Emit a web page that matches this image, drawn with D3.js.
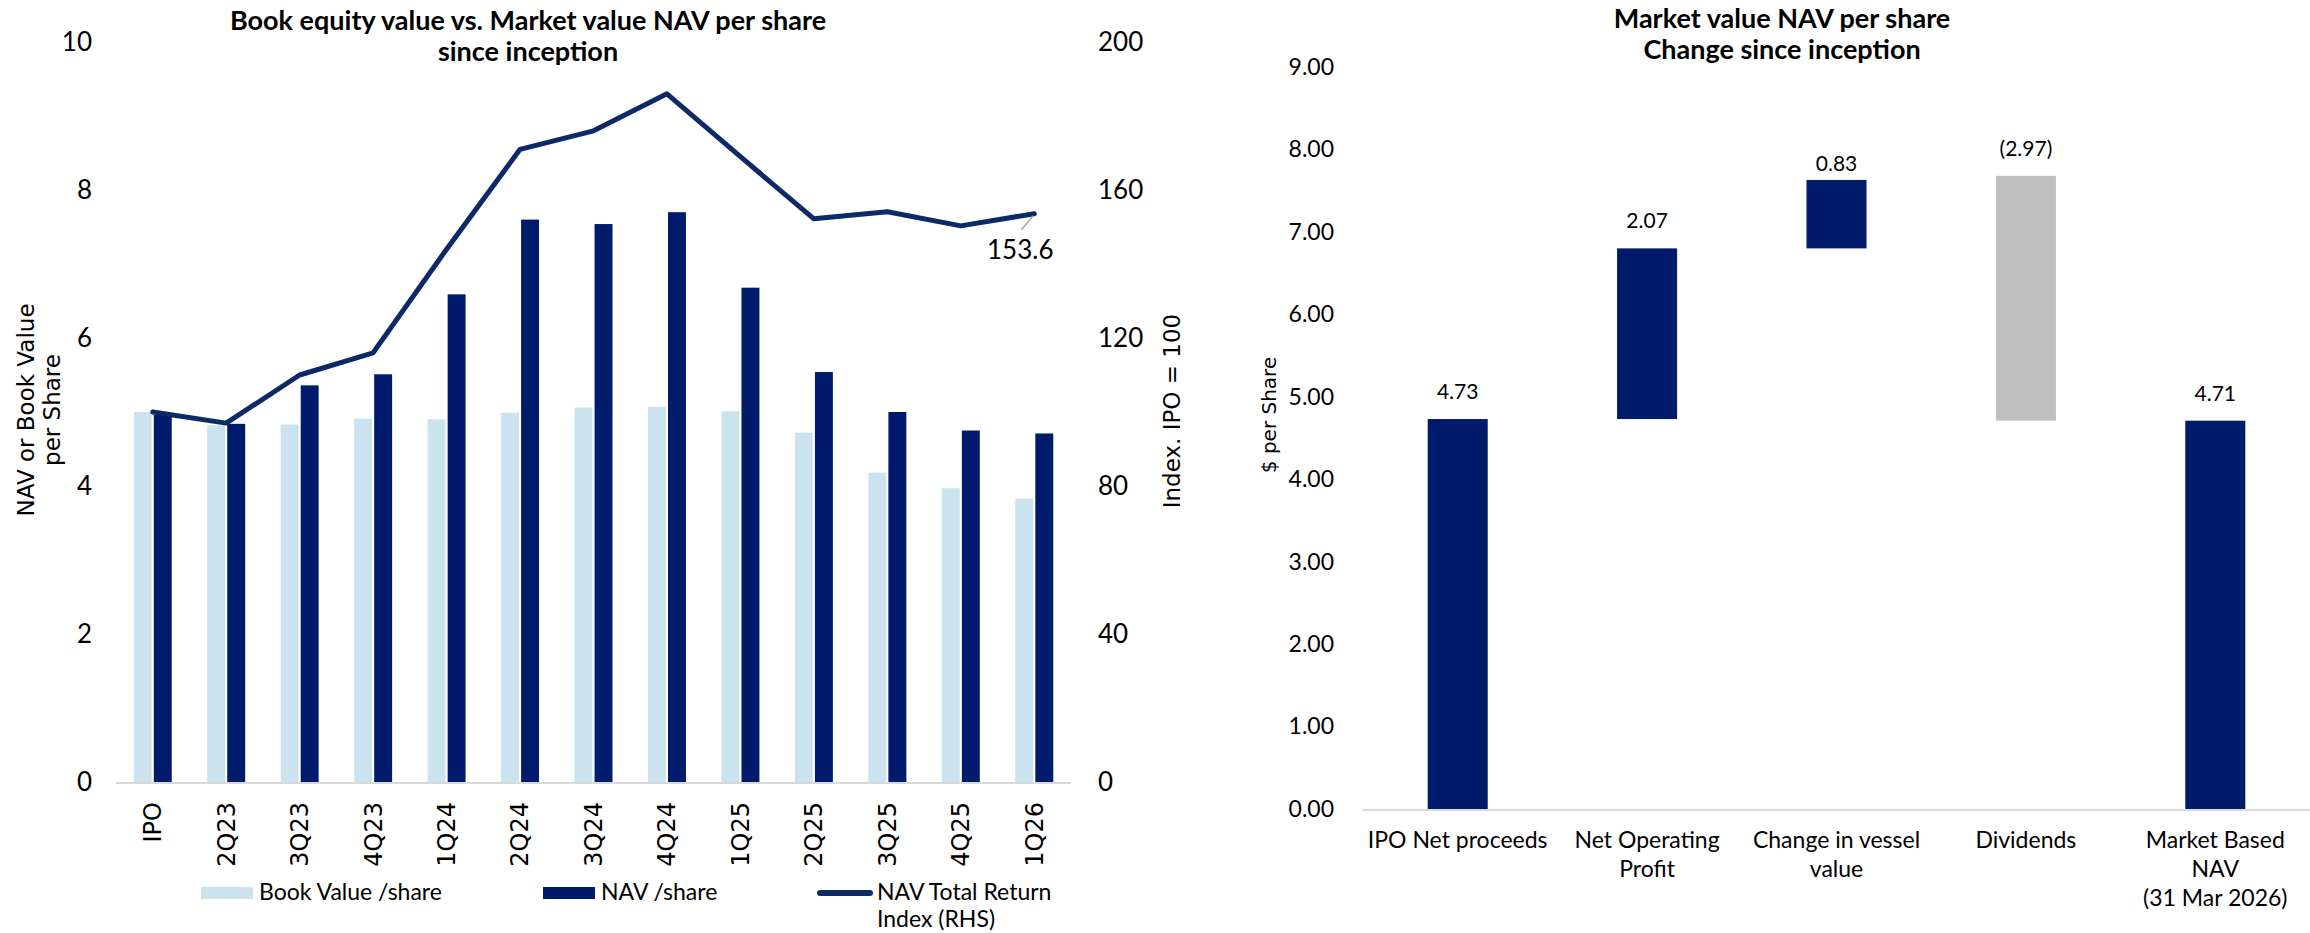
<!DOCTYPE html>
<html>
<head>
<meta charset="utf-8">
<script src="https://cdn.jsdelivr.net/npm/d3@7"></script>
<style>
  html, body { margin: 0; padding: 0; background: #fff; }
  svg { display: block; }
</style>
</head>
<body>
<svg id="chart" width="2310" height="933"></svg>
<script>
// ---------- Left chart data ----------
const categories = ['IPO','2Q23','3Q23','4Q23','1Q24','2Q24','3Q24','4Q24','1Q25','2Q25','3Q25','4Q25','1Q26'];
const bookValue = [5.00,4.82,4.83,4.91,4.90,4.99,5.06,5.07,5.01,4.72,4.18,3.97,3.83];
const navValue  = [4.96,4.84,5.36,5.51,6.59,7.60,7.54,7.70,6.68,5.54,5.00,4.75,4.71];
const navIndex  = [100,97,110,116,144,171,176,186,169,152.2,154.1,150.3,153.6];
const leftTicks  = [0,2,4,6,8,10];
const rightTicks = [0,40,80,120,160,200];
const leftTitle = ['Book equity value vs. Market value NAV per share','since inception'];
const leftAxisTitle = ['NAV or Book Value','per Share'];
const rightAxisTitle = 'Index. IPO = 100';
const legendItems = [['Book Value /share'],['NAV /share'],['NAV Total Return','Index (RHS)']];
const lastLabel = '153.6';

// ---------- Right chart data ----------
const wfCategories = [['IPO Net proceeds'],['Net Operating','Profit'],['Change in vessel','value'],['Dividends'],['Market Based','NAV','(31 Mar 2026)']];
const wfValues = [4.73, 2.07, 0.83, -2.97, 4.71];
const wfKinds  = ['total','delta','delta','delta','total'];
const wfTicks  = [0,1,2,3,4,5,6,7,8,9];
const wfTitle  = ['Market value NAV per share','Change since inception'];
const wfAxisTitle = '$ per Share';

// ---------- Styles ----------
const NAVY = '#001b6b', LIGHT = '#cbe3ef', LINE = '#0d2a68', GRAY = '#bfbfbf', AXIS = '#d9d9d9';
const LATO = 'Lato, "Noto Sans", sans-serif';
const SANS = '"DejaVu Sans", Verdana, sans-serif';

const svg = d3.select('#chart');

// ================= LEFT CHART =================
const L = {x0: 116, x1: 1071, yTop: 42, yBot: 782};
const x = d3.scaleBand().domain(categories).range([L.x0, L.x1]).padding(0);
const yL = d3.scaleLinear().domain([0,10]).range([L.yBot, L.yTop]);
const yR = d3.scaleLinear().domain([0,200]).range([L.yBot, L.yTop]);
const series = ['book','nav'];
const sub = d3.scaleBand().domain(series).range([-19, 19]).paddingInner(4/38);

const g = svg.append('g');

// bars
const rows = categories.map((c,i)=>({c, book: bookValue[i], nav: navValue[i]}));
const grp = g.selectAll('g.cat').data(rows).join('g')
  .attr('transform', d => `translate(${x(d.c) + x.bandwidth()/2},0)`);
grp.append('rect').attr('x', sub('book')).attr('width', sub.bandwidth())
  .attr('y', d => yL(d.book)).attr('height', d => yL(0) - yL(d.book)).attr('fill', LIGHT);
grp.append('rect').attr('x', sub('nav')).attr('width', sub.bandwidth())
  .attr('y', d => yL(d.nav)).attr('height', d => yL(0) - yL(d.nav)).attr('fill', NAVY);

// axis line
g.append('line').attr('x1', L.x0).attr('x2', L.x1).attr('y1', yL(0)+1).attr('y2', yL(0)+1)
  .attr('stroke', AXIS).attr('stroke-width', 2);

// left y axis
const axL = g.append('g').attr('transform', 'translate(92,0)')
  .call(d3.axisLeft(yL).tickValues(leftTicks).tickSize(0).tickPadding(0).tickFormat(d3.format('d')));
axL.select('.domain').remove();
axL.selectAll('text').attr('font-family', LATO).attr('font-size', 26).attr('fill', '#000');

// right y axis
const axR = g.append('g').attr('transform', 'translate(1098,0)')
  .call(d3.axisRight(yR).tickValues(rightTicks).tickSize(0).tickPadding(0).tickFormat(d3.format('d')));
axR.select('.domain').remove();
axR.selectAll('text').attr('font-family', LATO).attr('font-size', 26).attr('fill', '#000');

// x axis labels (rotated)
const axX = g.append('g').attr('transform', `translate(0,${yL(0)})`)
  .call(d3.axisBottom(x).tickSize(0).tickPadding(0));
axX.select('.domain').remove();
axX.selectAll('text')
  .attr('font-family', SANS).attr('font-size', 24).attr('fill', '#000')
  .attr('text-anchor', 'end')
  .attr('transform', 'translate(0,20) rotate(-90)')
  .attr('x', 0).attr('y', 0).attr('dy', '0.35em');

// line
const line = d3.line().x((d,i) => x(categories[i]) + x.bandwidth()/2).y(d => yR(d));
g.append('path').datum(navIndex).attr('d', line).attr('fill', 'none')
  .attr('stroke', LINE).attr('stroke-width', 5).attr('stroke-linejoin', 'round').attr('stroke-linecap', 'round');

// last point label
const lastX = x(categories[categories.length-1]) + x.bandwidth()/2;
const lastY = yR(navIndex[navIndex.length-1]);
g.append('line').attr('x1', lastX-1).attr('y1', lastY+2).attr('x2', lastX-13).attr('y2', lastY+16)
  .attr('stroke', '#a6a6a6').attr('stroke-width', 1.5);
g.append('text').attr('x', lastX - 14).attr('y', lastY + 45).attr('text-anchor', 'middle')
  .attr('font-family', LATO).attr('font-size', 26).attr('fill', '#000').text(lastLabel);

// title
const t1 = g.append('text').attr('text-anchor', 'middle').attr('font-family', LATO)
  .attr('font-weight', 'bold').attr('font-size', 27).attr('fill', '#000');
leftTitle.forEach((s,i) => t1.append('tspan').attr('x', 528).attr('y', 30 + i*31).text(s));

// axis titles
const at = g.append('text').attr('text-anchor', 'middle').attr('font-family', SANS)
  .attr('font-size', 23).attr('fill', '#000').attr('transform', 'translate(0,410) rotate(-90)');
leftAxisTitle.forEach((s,i) => at.append('tspan').attr('x', 0).attr('y', 34 + i*26).text(s));
g.append('text').attr('text-anchor', 'middle').attr('font-family', SANS).attr('font-size', 23)
  .attr('fill', '#000').attr('transform', 'translate(1180,411) rotate(-90)').text(rightAxisTitle);

// legend
const legX = [201, 543, 817];
const lg = g.append('g');
[0,1].forEach(i => lg.append('rect').attr('x', legX[i]).attr('y', 887).attr('width', 52).attr('height', 12)
  .attr('fill', i === 0 ? LIGHT : NAVY));
lg.append('line').attr('x1', legX[2]+3).attr('x2', legX[2]+53).attr('y1', 893).attr('y2', 893)
  .attr('stroke', LINE).attr('stroke-width', 6).attr('stroke-linecap', 'round');
legendItems.forEach((lines,i) => {
  const tx = lg.append('text').attr('font-family', LATO).attr('font-size', 23).attr('fill', '#000');
  lines.forEach((s,j) => tx.append('tspan').attr('x', legX[i] + 58 + (i===2 ? 2 : 0)).attr('y', 900 + j*27).text(s));
});

// ================= RIGHT CHART =================
const R = {x0: 1363, x1: 2310, yTop: 67, yBot: 809};
const wfIdx = wfValues.map((d,i) => i);
const xw = d3.scaleBand().domain(wfIdx).range([R.x0, R.x1]).paddingInner(0.683).paddingOuter(0.683/2);
const yw = d3.scaleLinear().domain([0,9]).range([R.yBot, R.yTop]);

// compute waterfall segments
const finalTotal = wfValues[wfValues.length-1];
let running = 0;
const segs = wfValues.map((v,i) => {
  let lo, hi;
  if (wfKinds[i] === 'total') { lo = 0; hi = v; running = v; }
  else if (v >= 0) { lo = running; hi = running + v; running = hi; }
  else { lo = finalTotal; hi = finalTotal - v; running = lo; }
  return {i, v, lo, hi, kind: wfKinds[i]};
});

const gw = svg.append('g');
gw.selectAll('rect.wf').data(segs).join('rect')
  .attr('x', d => xw(d.i)).attr('width', xw.bandwidth())
  .attr('y', d => yw(d.hi)).attr('height', d => yw(d.lo) - yw(d.hi))
  .attr('fill', d => d.v < 0 ? GRAY : NAVY);

const fmt = d3.format('.2f');
gw.selectAll('text.val').data(segs).join('text')
  .attr('x', d => xw(d.i) + xw.bandwidth()/2)
  .attr('y', d => yw(d.hi) - (d.kind === 'delta' && d.v >= 0 && d.v < 1 ? 9 : 20))
  .attr('text-anchor', 'middle').attr('font-family', LATO).attr('font-size', 21).attr('fill', '#000')
  .text(d => d.v < 0 ? `(${fmt(-d.v)})` : fmt(d.v));

gw.append('line').attr('x1', R.x0).attr('x2', R.x1).attr('y1', yw(0)+1).attr('y2', yw(0)+1)
  .attr('stroke', AXIS).attr('stroke-width', 2);

const axW = gw.append('g').attr('transform', 'translate(1334,0)')
  .call(d3.axisLeft(yw).tickValues(wfTicks).tickSize(0).tickPadding(0).tickFormat(d3.format('.2f')));
axW.select('.domain').remove();
axW.selectAll('text').attr('font-family', LATO).attr('font-size', 23).attr('fill', '#000');

// category labels
wfCategories.forEach((lines,i) => {
  const tx = gw.append('text').attr('text-anchor', 'middle').attr('font-family', LATO)
    .attr('font-size', 23).attr('fill', '#000');
  lines.forEach((s,j) => tx.append('tspan').attr('x', xw(i) + xw.bandwidth()/2).attr('y', 848 + j*29).text(s));
});

// title
const t2 = gw.append('text').attr('text-anchor', 'middle').attr('font-family', LATO)
  .attr('font-weight', 'bold').attr('font-size', 27).attr('fill', '#000');
wfTitle.forEach((s,i) => t2.append('tspan').attr('x', 1782).attr('y', 28 + i*31).text(s));

gw.append('text').attr('text-anchor', 'middle').attr('font-family', SANS).attr('font-size', 20)
  .attr('fill', '#000').attr('transform', 'translate(1276,415) rotate(-90)').text(wfAxisTitle);
</script>
</body>
</html>
